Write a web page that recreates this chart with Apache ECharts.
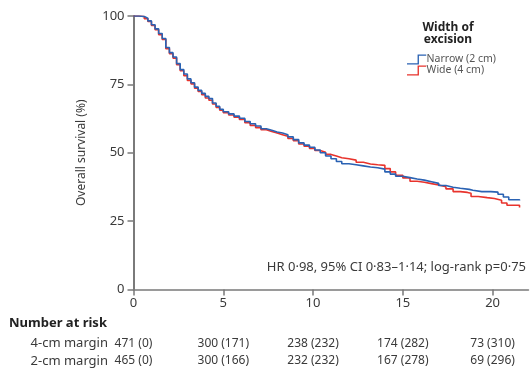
<!DOCTYPE html>
<html>
<head>
<meta charset="utf-8">
<script src="https://cdn.jsdelivr.net/npm/echarts@6/dist/echarts.min.js"></script>
<style>
  html, body { margin: 0; padding: 0; background: #fff; }
  #chart { width: 531px; height: 371px; }
</style>
</head>
<body>
<div id="chart"></div>
<script>
// years / overall survival (%)
var narrowTime = [0, 0.3, 0.6, 0.8, 1.0, 1.2, 1.4, 1.6, 1.8, 2.0, 2.2, 2.4, 2.6, 2.8, 3.0, 3.2, 3.4, 3.6, 3.8, 4.0, 4.2, 4.4, 4.6, 4.8, 5.0, 5.3, 5.6, 5.9, 6.2, 6.5, 6.8, 7.1, 7.4, 7.7, 8.0, 8.3, 8.6, 8.9, 9.2, 9.5, 9.8, 10.1, 10.4, 10.7, 11.0, 11.3, 11.6, 12.0, 12.4, 12.8, 13.2, 13.6, 14.0, 14.3, 14.6, 15.0, 15.4, 15.8, 16.2, 16.6, 17.0, 17.4, 17.8, 18.2, 18.7, 18.9, 19.4, 19.9, 20.3, 20.6, 20.9, 21.5];
var narrowSurv = [100, 99.8, 99.2, 98.2, 96.8, 95.3, 93.6, 91.8, 88.5, 86.6, 85.0, 82.6, 80.4, 78.8, 77.0, 75.6, 74.0, 72.8, 71.7, 70.6, 69.8, 68.2, 67.0, 65.9, 65.0, 64.2, 63.4, 62.6, 61.4, 60.6, 59.8, 58.8, 58.2, 57.6, 57.2, 56.6, 55.8, 54.8, 53.6, 52.8, 52.0, 51.0, 50.0, 48.8, 47.8, 46.8, 46.0, 45.6, 45.2, 44.8, 44.5, 44.0, 43.0, 42.2, 41.4, 40.9, 40.4, 40.0, 39.4, 38.8, 38.0, 37.4, 37.0, 36.6, 36.3, 35.8, 35.8, 35.6, 34.8, 33.8, 32.8, 32.5];

var wideTime = [0, 0.3, 0.6, 0.8, 1.0, 1.2, 1.4, 1.6, 1.8, 2.0, 2.2, 2.4, 2.6, 2.8, 3.0, 3.2, 3.4, 3.6, 3.8, 4.0, 4.2, 4.4, 4.6, 4.8, 5.0, 5.3, 5.6, 5.9, 6.2, 6.5, 6.8, 7.1, 7.4, 7.7, 8.0, 8.3, 8.6, 8.9, 9.2, 9.5, 9.8, 10.1, 10.4, 10.7, 11.0, 11.3, 11.6, 12.0, 12.4, 12.8, 13.2, 13.6, 14.0, 14.3, 14.6, 15.0, 15.4, 15.8, 16.2, 16.6, 17.0, 17.4, 17.8, 18.2, 18.6, 18.8, 19.2, 19.7, 20.1, 20.5, 20.8, 21.5];
var wideSurv = [100, 99.8, 99.0, 98.0, 96.5, 95.0, 93.2, 91.4, 88.0, 86.2, 84.6, 82.2, 80.0, 78.2, 76.4, 75.2, 73.6, 72.4, 71.2, 70.0, 69.2, 67.8, 66.6, 65.6, 64.6, 63.8, 63.0, 62.2, 61.0, 60.0, 59.2, 58.4, 57.8, 57.2, 56.6, 56.0, 55.2, 54.4, 53.2, 52.4, 51.6, 50.8, 50.2, 49.4, 48.8, 48.2, 47.8, 47.3, 46.5, 45.9, 45.6, 45.4, 44.2, 43.0, 41.8, 40.8, 39.6, 39.2, 38.7, 38.2, 37.6, 36.8, 35.8, 35.5, 35.2, 34.0, 33.6, 33.3, 32.6, 31.6, 30.8, 30.0];

var xTicks = [0, 5, 10, 15, 20];
// number at risk (censored)
var risk4cm = ["471 (0)", "300 (171)", "238 (232)", "174 (282)", "73 (310)"];
var risk2cm = ["465 (0)", "300 (166)", "232 (232)", "167 (278)", "69 (296)"];
var statText = "HR 0·98, 95% CI 0·83–1·14; log-rank p=0·75";

function pairs(t, v) {
  return t.map(function (x, i) { return [x, v[i]]; });
}

var myChart = echarts.init(document.getElementById("chart"));
var font = "Noto Sans";
var axisGrey = "#7a7a7a";
var textGrey = "#3a3a3a";
var blue = "#2a62b3";
var red = "#e8332c";

function riskAxis(labels, offset) {
  return {
    type: "value",
    min: 0,
    max: 22,
    position: "bottom",
    offset: offset,
    axisLine: { show: false },
    axisTick: { show: false },
    splitLine: { show: false },
    axisLabel: {
      customValues: xTicks,
      margin: 4,
      color: textGrey,
      fontFamily: font,
      fontSize: 12,
      formatter: function (v) {
        return labels[xTicks.indexOf(v)];
      },
    },
  };
}

var option = {
  animation: false,
  grid: { left: 133.5, right: 2.5, top: 16, bottom: 81.5 },
  legend: {
    left: 402,
    top: 49,
    orient: "vertical",
    itemWidth: 20,
    itemHeight: 10,
    itemGap: 0,
    icon: "path://M0,9 L11,9 L11,0 L20,0 L20,1.4 L12.4,1.4 L12.4,10.4 L0,10.4 Z",
    itemStyle: { borderWidth: 0 },
    textStyle: { color: "#555", fontFamily: font, fontSize: 10.5, padding: [0, 0, 0, -5] },
    data: ["Narrow (2 cm)", "Wide (4 cm)"],
  },
  xAxis: [
    {
      type: "value",
      min: 0,
      max: 22,
      splitLine: { show: false },
      axisLine: { show: true, onZero: false, lineStyle: { color: axisGrey, width: 1.5 } },
      axisTick: { show: true, customValues: xTicks, length: 6, lineStyle: { color: axisGrey, width: 1.5 } },
      axisLabel: { customValues: xTicks, margin: 7, color: textGrey, fontFamily: font, fontSize: 13 },
    },
    riskAxis(risk4cm, 44),
    riskAxis(risk2cm, 61),
  ],
  yAxis: {
    type: "value",
    min: 0,
    max: 100,
    interval: 25,
    name: "Overall survival (%)",
    nameLocation: "middle",
    nameGap: 46,
    nameTextStyle: { color: textGrey, fontFamily: font, fontSize: 12 },
    splitLine: { show: false },
    axisLine: { show: true, lineStyle: { color: axisGrey, width: 2 } },
    axisTick: { show: true, length: 6, lineStyle: { color: axisGrey, width: 1.5 } },
    axisLabel: { margin: 9, color: textGrey, fontFamily: font, fontSize: 13 },
  },
  graphic: [
    {
      type: "text",
      x: 448,
      y: 34,
      style: {
        text: "Width of\nexcision",
        align: "center",
        verticalAlign: "middle",
        font: "bold 12px 'Noto Sans'",
        fill: "#222",
        lineHeight: 12,
      },
    },
    {
      type: "text",
      right: 5,
      top: 261,
      style: { text: statText, font: "13px 'Noto Sans'", fill: textGrey },
    },
    {
      type: "text",
      x: 9,
      y: 323,
      style: { text: "Number at risk", verticalAlign: "middle", font: "bold 13px 'Noto Sans'", fill: "#222" },
    },
    {
      type: "text",
      x: 108,
      y: 343,
      style: { text: "4-cm margin", align: "right", verticalAlign: "middle", font: "13px 'Noto Sans'", fill: textGrey },
    },
    {
      type: "text",
      x: 108,
      y: 361,
      style: { text: "2-cm margin", align: "right", verticalAlign: "middle", font: "13px 'Noto Sans'", fill: textGrey },
    },
  ],
  series: [
    {
      name: "Wide (4 cm)",
      type: "line",
      step: "end",
      showSymbol: false,
      itemStyle: { color: red },
      lineStyle: { width: 1.6, color: red },
      data: pairs(wideTime, wideSurv),
    },
    {
      name: "Narrow (2 cm)",
      type: "line",
      step: "end",
      showSymbol: false,
      itemStyle: { color: blue },
      lineStyle: { width: 1.6, color: blue },
      data: pairs(narrowTime, narrowSurv),
    },
  ],
};

myChart.setOption(option);
</script>
</body>
</html>
